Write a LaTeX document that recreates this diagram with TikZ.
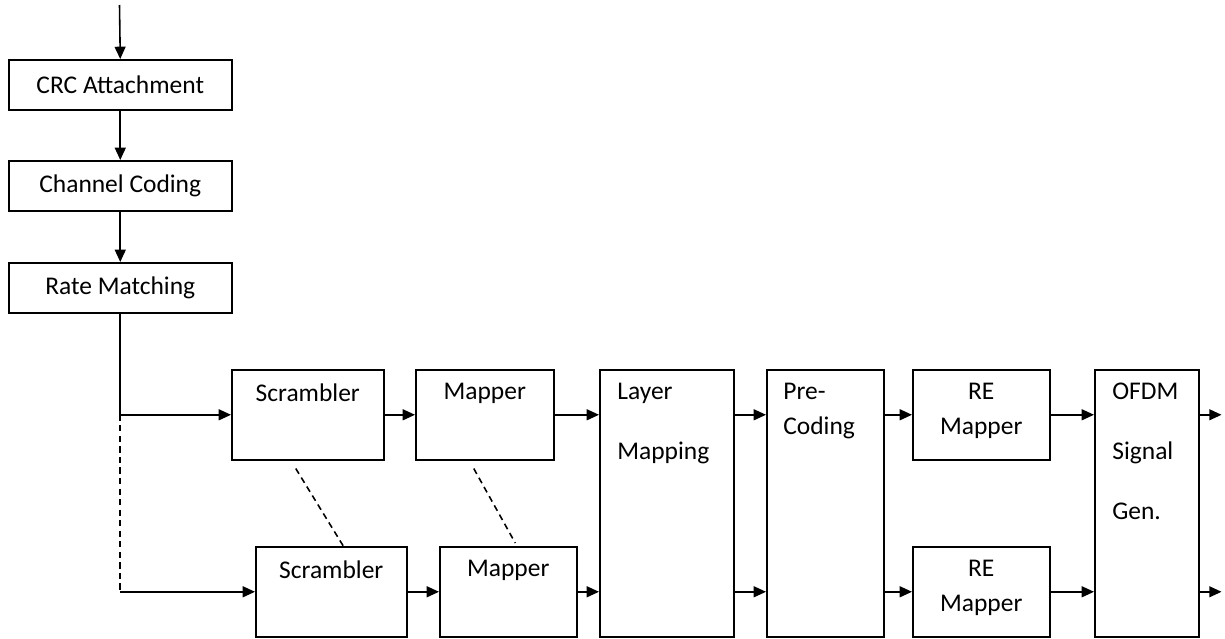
\documentclass[tikz,border=0pt]{standalone}
\usepackage{fontspec}
\setmainfont{Carlito}
\usetikzlibrary{arrows.meta,positioning,calc}

\begin{document}
\begin{tikzpicture}[x=0.02cm,y=-0.02cm,
  block/.style={rectangle,draw,line width=0.9pt,inner sep=0pt,anchor=north west,
                font=\fontsize{14.5}{20}\selectfont},
  short/.style={block,minimum height=1.8cm},
  tall/.style={block,minimum height=5.34cm},
  txt/.style={font=\fontsize{14.5}{20}\selectfont,inner sep=0pt},
  arr/.style={-{Triangle[length=7pt,width=6.2pt]},line width=0.9pt},
  link/.style={line width=0.9pt},
  dashlink/.style={dash pattern=on 3.5pt off 2.5pt,line width=0.9pt}
]
  \useasboundingbox (0,0) rectangle (1225,639);

  % ---- Transport channel chain (left column) -------------------
  \node[block,minimum width=4.46cm,minimum height=1cm] (crc)  at (8,59)  {CRC Attachment};
  \node[block,minimum width=4.46cm,minimum height=1cm] (chan) at (8,160) {Channel Coding};
  \node[block,minimum width=4.46cm,minimum height=1cm] (rate) at (8,262) {Rate Matching};

  \coordinate (in) at (119.5,5);
  \draw[arr] (in) -- (crc.north);
  \draw[arr] (crc) -- (chan);
  \draw[arr] (chan) -- (rate);

  % ---- Codeword blocks ------------------------------------------
  \node[short,minimum width=3.04cm] (scrA) at (231,369) {};
  \node[short,minimum width=2.76cm] (mapA) at (415,369) {};
  \node[short,minimum width=3.02cm] (scrB) at (255,546) {};
  \node[short,minimum width=2.74cm] (mapB) at (439,546) {};

  \node[txt,anchor=north] (scrAtxt) at ($(scrA.north)+(0,14)$) {Scrambler};
  \node[txt,anchor=north] (mapAtxt) at ($(mapA.north)+(0,14)$) {Mapper};
  \node[txt,anchor=north] (scrBtxt) at ($(scrB.north)+(0,14)$) {Scrambler};
  \node[txt,anchor=north] (mapBtxt) at ($(mapB.north)+(0,14)$) {Mapper};

  % ---- Layer mapping, precoding and OFDM -------------------------
  \node[tall,minimum width=2.68cm] (layer) at (599,369) {};
  \node[tall,minimum width=2.34cm] (pre)   at (766,369) {};
  \node[short,minimum width=2.74cm] (reA)  at (912,369) {};
  \node[short,minimum width=2.74cm] (reB)  at (912,546) {};
  \node[tall,minimum width=2.08cm] (ofdm)  at (1094,369) {};

  \node[txt,anchor=north west,align=left] (layertxt) at ($(layer.north west)+(18,14)$)
    {Layer\\[14pt]Mapping};
  \node[txt,anchor=north west,align=left] (pretxt) at ($(pre.north west)+(17,14)$)
    {Pre-\\Coding};
  \node[txt,anchor=north,align=center] (reAtxt) at ($(reA.north)+(0,14)$) {RE\\Mapper};
  \node[txt,anchor=north,align=center] (reBtxt) at ($(reB.north)+(0,14)$) {RE\\Mapper};
  \node[txt,anchor=north west,align=left] (ofdmtxt) at ($(ofdm.north west)+(18,14)$)
    {OFDM\\[14pt]Signal\\[14pt]Gen.};

  % ---- Split into two codewords ----------------------------------
  \coordinate (split) at (rate.south |- scrA.west);
  \draw[link] (rate.south) -- (split);
  \draw[arr] (split) -- (scrA.west);
  \draw[dashlink] (split) -- (split |- scrB.west);
  \draw[arr] (split |- scrB.west) -- (scrB.west);

  % upper path
  \draw[arr] (scrA) -- (mapA);
  \draw[arr] (mapA.east) -- (mapA.east -| layer.west);
  \draw[arr] (layer.east |- mapA.east) -- (pre.west |- mapA.east);
  \draw[arr] (pre.east |- reA.west) -- (reA.west);
  \draw[arr] (reA.east) -- (reA.east -| ofdm.west);
  \coordinate (outA) at ($(ofdm.east |- reA.east)+(22,0)$);
  \draw[arr] (ofdm.east |- reA.east) -- (outA);

  % lower path
  \draw[arr] (scrB) -- (mapB);
  \draw[arr] (mapB.east) -- (mapB.east -| layer.west);
  \draw[arr] (layer.east |- reB.west) -- (pre.west |- reB.west);
  \draw[arr] (pre.east |- reB.west) -- (reB.west);
  \draw[arr] (reB.east) -- (reB.east -| ofdm.west);
  \coordinate (outB) at ($(ofdm.east |- reB.east)+(22,0)$);
  \draw[arr] (ofdm.east |- reB.east) -- (outB);

  % ---- Dashed links between codeword copies ----------------------
  \draw[dashlink] ($(scrA.south)+(-12,8)$) -- ($(scrB.north)+(12,0)$);
  \draw[dashlink] ($(mapA.south)+(-11,8)$) -- ($(mapB.north)+(7,-3)$);

\end{tikzpicture}
\end{document}
